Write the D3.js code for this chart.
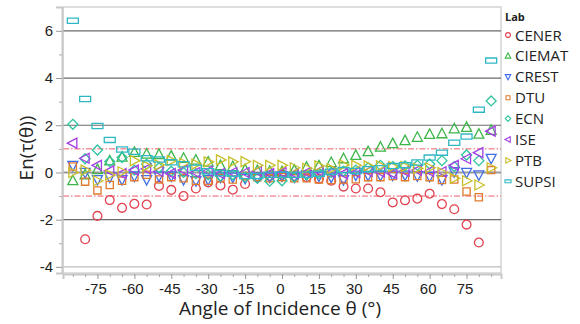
<!DOCTYPE html>
<html><head><meta charset="utf-8">
<script src="https://cdn.jsdelivr.net/npm/d3@7"></script>
<style>body{margin:0;background:#fff}svg{display:block;font-family:"Open Sans",sans-serif}</style>
</head><body><svg id="c" width="580" height="324"></svg>
<script>
const angles = d3.range(-85, 86, 5);
const labs = ["CENER","CIEMAT","CREST","DTU","ECN","ISE","PTB","SUPSI"];
const CENER  = [null,-2.83,-1.84,-1.17,-1.50,-1.33,-1.36,-0.57,-0.74,-1.00,-0.68,-0.42,-0.55,-0.73,-0.49,-0.20,-0.15,-0.10,-0.15,-0.20,-0.27,-0.35,-0.60,-0.68,-0.68,-0.84,-1.27,-1.18,-1.11,-0.90,-1.34,-1.56,-2.21,-2.97,null];
const CIEMAT = [-0.35,-0.10,0.12,0.49,0.65,0.85,0.78,0.76,0.69,0.60,0.52,0.44,0.29,0.25,0.12,0.08,0.05,0.03,0.10,0.22,0.28,0.42,0.58,0.72,0.88,1.07,1.22,1.35,1.49,1.61,1.64,1.85,1.91,1.62,1.78];
const CREST  = [0.30,0.00,-0.30,-0.20,-0.30,-0.15,-0.30,-0.15,-0.15,-0.30,-0.35,-0.30,-0.20,-0.20,-0.25,-0.20,-0.20,-0.15,-0.20,-0.10,-0.15,-0.20,-0.30,-0.11,-0.12,-0.12,-0.11,-0.11,-0.14,-0.16,-0.30,0.03,0.00,-0.10,0.60];
const DTU    = [0.25,-0.39,-0.76,-0.53,-0.35,-0.20,-0.10,-0.30,-0.20,-0.25,-0.35,-0.35,-0.25,-0.30,-0.15,-0.20,-0.25,-0.20,-0.25,-0.25,-0.30,-0.32,-0.30,-0.29,-0.20,-0.20,-0.15,-0.20,-0.15,-0.20,-0.32,-0.30,-0.81,-1.05,0.10];
const ECN    = [2.04,0.58,0.95,0.46,0.63,0.10,0.35,0.20,0.05,0.00,-0.05,-0.10,-0.15,-0.10,-0.20,-0.25,-0.37,-0.35,-0.20,-0.10,-0.05,0.00,0.05,0.10,0.20,0.30,0.25,0.28,0.30,0.36,0.50,0.25,0.74,0.50,3.03];
const ISE    = [1.24,0.60,0.30,0.07,-0.05,0.10,0.15,0.05,-0.05,0.10,0.00,0.05,-0.05,0.00,0.00,0.05,-0.05,0.00,-0.05,0.00,0.05,0.00,-0.05,0.00,0.05,0.02,-0.05,0.05,0.10,0.05,0.03,0.30,0.58,0.84,1.75];
const PTB    = [0.00,0.10,-0.35,-0.10,0.03,0.50,0.28,0.32,0.50,0.39,0.35,0.45,0.53,0.45,0.46,0.30,0.30,0.30,0.20,0.18,0.28,0.15,0.32,0.30,0.28,0.28,0.25,0.25,0.17,0.20,0.00,-0.25,-0.35,-0.53,0.20];
const SUPSI  = [6.43,3.11,1.97,1.38,0.97,0.88,0.60,0.55,0.43,0.35,0.20,0.05,-0.02,-0.05,-0.15,-0.15,-0.10,-0.10,-0.10,-0.10,-0.05,0.03,0.10,0.06,0.14,0.18,0.27,0.31,0.42,0.63,0.84,1.26,1.52,2.66,4.74];
const series = [CENER,CIEMAT,CREST,DTU,ECN,ISE,PTB,SUPSI];
const xTicks = [-75,-60,-45,-30,-15,0,15,30,45,60,75];
const yTicks = [6,4,2,0,-2,-4];
const limits = [1,-1];

const colors = ["#e2434f","#3db548","#3f6ee6","#e07b2e","#2ec4a0","#a33fe6","#c9bf2a","#2fb8c4"];
const shapes = {
  CENER: s => { const r=4.4*s; return `M${r},0A${r},${r} 0 1,1 ${-r},0A${r},${r} 0 1,1 ${r},0Z`; },
  CIEMAT: s => `M0,${-5.5*s}L${5*s},${4*s}L${-5*s},${4*s}Z`,
  CREST: s => `M0,${5.5*s}L${5*s},${-4*s}L${-5*s},${-4*s}Z`,
  DTU: s => `M${-3.6*s},${-3.6*s}h${7.2*s}v${7.2*s}h${-7.2*s}Z`,
  ECN: s => `M0,${-5*s}L${5*s},0L0,${5*s}L${-5*s},0Z`,
  ISE: s => `M${-5.5*s},0L${4*s},${-5*s}L${4*s},${5*s}Z`,
  PTB: s => `M${5.5*s},0L${-4*s},${-5*s}L${-4*s},${5*s}Z`,
  SUPSI: s => `M${-5.5*s},${-2.6*s}h${11*s}v${5.2*s}h${-11*s}Z`
};

const svg = d3.select("#c");
const L=63, R=501, T=7, B=273;
const x = d3.scaleLinear().domain([-89,89]).range([L,R]);
const y = d3.scaleLinear().domain([-4.26,7.01]).range([B,T]);

svg.append("rect").attr("x",L).attr("y",T).attr("width",R-L).attr("height",B-T)
  .attr("fill","none").attr("stroke","#d4d4d4").attr("stroke-width",1.5);
yTicks.forEach(v=>{
  let col="#6a6a6a", w=1.2;
  if(v===0){col="#9a9a9a"; w=2;}
  if(v===-4){col="#bdbdbd"; w=1.2;}
  svg.append("line").attr("x1",L).attr("x2",R).attr("y1",y(v)).attr("y2",y(v))
    .attr("stroke",col).attr("stroke-width",w);
});
limits.forEach(v=>{
  svg.append("line").attr("x1",L).attr("x2",R).attr("y1",y(v)).attr("y2",y(v))
    .attr("stroke","#ee5a66").attr("stroke-width",1).attr("stroke-dasharray","6,2,1.5,2");
});

const yAxis = d3.axisLeft(y).tickValues(yTicks).tickSize(6).tickFormat(d3.format("d"));
const gy = svg.append("g").attr("transform",`translate(${L-1},0)`).call(yAxis);
gy.select(".domain").attr("stroke","#c8c8c8").attr("stroke-width",2);
gy.selectAll(".tick line").attr("stroke","#999");
gy.selectAll(".tick text").attr("font-size",15).attr("fill","#222").attr("x",-9)
  .text(d=>d<0?"-"+Math.abs(d):d);
const gym = svg.append("g").attr("transform",`translate(${L-1},0)`)
  .call(d3.axisLeft(y).tickValues([5,3,1,-1,-3]).tickSize(3).tickFormat(""));
gym.select(".domain").remove(); gym.selectAll("line").attr("stroke","#aaa");

const gx = svg.append("g").attr("transform",`translate(0,${B+1})`)
  .call(d3.axisBottom(x).tickValues(xTicks).tickSize(5).tickFormat(d=>d<0?"-"+Math.abs(d):d));
gx.select(".domain").attr("stroke","#c8c8c8").attr("stroke-width",2);
gx.selectAll(".tick line").attr("stroke","#999");
gx.selectAll(".tick text").attr("font-size",15).attr("fill","#222").attr("dx",-2).attr("y",9);
const gxm = svg.append("g").attr("transform",`translate(0,${B+1})`)
  .call(d3.axisBottom(x).tickValues(d3.range(-85,86,5).filter(v=>v%15!==0)).tickSize(3).tickFormat(""));
gxm.select(".domain").remove(); gxm.selectAll("line").attr("stroke","#aaa");

svg.append("text").attr("x",280).attr("y",315).attr("text-anchor","middle")
  .attr("font-size",19).attr("fill","#222").text("Angle of Incidence θ (°)");
svg.append("text").attr("transform","translate(33,148) rotate(-90)").attr("text-anchor","middle")
  .attr("font-size",19).attr("fill","#222").text("En(τ(θ))");

labs.forEach((lab,i)=>{
  const pts = angles.map((a,j)=>({a, v: series[i][j]})).filter(d=>d.v!==null);
  svg.append("g").selectAll("path").data(pts).join("path")
    .attr("transform",d=>`translate(${x(d.a)},${y(d.v)})`)
    .attr("d",shapes[lab](1)).attr("fill","none").attr("stroke",colors[i]).attr("stroke-width",1.3);
});

svg.append("text").attr("x",505).attr("y",21).attr("font-size",11).attr("font-weight","bold")
  .attr("fill","#222").text("Lab");
labs.forEach((lab,i)=>{
  const yy = 35 + i*20.9;
  svg.append("path").attr("transform",`translate(508,${yy})`).attr("d",shapes[lab](0.55))
    .attr("fill","none").attr("stroke",colors[i]).attr("stroke-width",1.1);
  svg.append("text").attr("x",515).attr("y",yy+5.5).attr("font-size",15).attr("fill","#222").text(lab);
});
</script></body></html>
